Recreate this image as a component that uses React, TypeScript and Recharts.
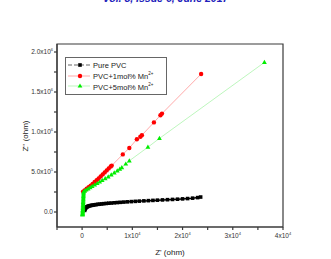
import React from "react";
import { ScatterChart, Scatter, XAxis, YAxis, Label, ReferenceArea } from "recharts";

const seriesNames = ["Pure PVC", "PVC+1mol% Mn", "PVC+5mol% Mn"];
const seriesColors = ["#000000", "#ff0000", "#00ee00"];
const lineColors = ["#000000", "#ff7070", "#90f090"];

const xDomain = [-5000, 40000];
const yDomain = [-187500, 2100000];
const xTicks = [-5000, 0, 5000, 10000, 15000, 20000, 25000, 30000, 35000, 40000];
const yTicks = [0, 250000, 500000, 750000, 1000000, 1250000, 1500000, 1750000, 2000000];

const pureX = [500, 550, 620, 700, 800, 900, 1000, 1150, 1300, 1500, 1700, 1950, 2200, 2500, 2800, 3150, 3500, 3900, 4300, 4800, 5300, 5800, 6400, 7000, 7600, 8300, 9000, 9800, 10600, 11400, 12300, 13200, 14100, 15000, 16000, 17000, 18000, 19000, 20000, 21000, 22000, 23000, 23600];
const pureY = [20000, 32000, 42000, 50000, 57000, 62000, 66000, 70000, 74000, 78000, 81000, 84000, 87000, 90000, 93000, 96000, 98000, 101000, 104000, 107000, 110000, 112000, 115000, 118000, 121000, 124000, 127000, 130000, 133000, 136000, 139000, 142000, 145000, 148000, 151000, 154000, 157000, 160000, 164000, 168000, 173000, 180000, 187000];

const mn1X = [200, 500, 900, 1300, 1700, 2100, 2500, 2900, 3300, 3700, 4100, 4500, 4900, 5300, 5700, 5900, 8100, 9400, 10900, 11600, 11900, 14300, 15600, 15900, 23700];
const mn1Y = [255000, 270000, 290000, 310000, 330000, 352000, 375000, 398000, 420000, 445000, 470000, 495000, 520000, 545000, 568000, 580000, 720000, 800000, 910000, 940000, 960000, 1120000, 1210000, 1230000, 1725000];

const mn5X = [80, 90, 100, 110, 120, 130, 140, 150, 160, 170, 180, 190, 200, 210, 220, 230, 240, 250, 260, 270, 280, 290, 300, 500, 800, 1200, 1600, 2000, 2500, 3000, 3500, 4000, 4600, 5200, 5800, 6400, 7000, 7500, 7900, 8700, 9400, 13100, 15400, 36300];
const mn5Y = [-37000, -30000, -20000, -10000, 0, 10000, 20000, 30000, 45000, 60000, 75000, 90000, 105000, 120000, 135000, 150000, 165000, 180000, 195000, 210000, 225000, 240000, 250000, 262000, 275000, 290000, 305000, 320000, 338000, 356000, 375000, 395000, 418000, 440000, 465000, 490000, 515000, 535000, 555000, 600000, 640000, 810000, 920000, 1870000];

const zip = (xs: number[], ys: number[]) => xs.map((x, i) => ({ x, y: ys[i] }));
const pureData = zip(pureX, pureY);
const mn1Data = zip(mn1X, mn1Y);
const mn5Data = zip(mn5X, mn5Y);

const FONT = "'Liberation Sans', Arial, sans-serif";
const AXIS = "#3a3a3a";

function Marker({ kind, cx, cy, color }: { kind: number; cx: number; cy: number; color: string }) {
    if (kind === 0) return <rect x={cx - 1.8} y={cy - 1.8} width={3.6} height={3.6} fill={color} />;
    if (kind === 1) return <circle cx={cx} cy={cy} r={2.2} fill={color} />;
    return <polygon points={`${cx},${cy - 2.6} ${cx - 2.4},${cy + 1.6} ${cx + 2.4},${cy + 1.6}`} fill={color} />;
}

function XTick({ x, y, payload }: any) {
    const v = payload.value;
    if (v < 0 || v % 10000 !== 0) return null;
    const k = v / 10000;
    return (
        <text x={x} y={y + 6} textAnchor="middle" fontSize={6.5} fill="#333" fontFamily={FONT}>
            {k === 0 ? "0" : <>{k}x10<tspan dy={-3} fontSize={4}>4</tspan></>}
        </text>
    );
}

function YTick({ x, y, payload }: any) {
    const v = payload.value;
    if (v % 500000 !== 0) return null;
    let body: React.ReactNode = "0.0";
    if (v > 0) {
        const exp = v >= 1000000 ? 6 : 5;
        const m = (v / Math.pow(10, exp)).toFixed(1);
        body = <>{m}x10<tspan dy={-3} fontSize={4}>{exp}</tspan></>;
    }
    return (
        <text x={x + 1} y={y + 2.3} textAnchor="end" fontSize={6.5} fill="#333" fontFamily={FONT}>
            {body}
        </text>
    );
}

function LegendBox() {
    return (
        <div style={{ position: "absolute", left: 65, top: 57, border: "1px solid #666", background: "#fff", width: 100, padding: "2px 0", fontFamily: FONT, fontSize: 7.5, color: "#222" }}>
            {seriesNames.map((name, i) => (
                <div key={name} style={{ display: "flex", alignItems: "center", height: 10.5 }}>
                    <svg width={27} height={10}>
                        <line x1={2} x2={24} y1={5} y2={5} stroke={lineColors[i]} strokeWidth={0.6} strokeDasharray={i === 0 ? "4 2" : undefined} />
                        <Marker kind={i} cx={14} cy={5} color={seriesColors[i]} />
                    </svg>
                    <span>
                        {name}
                        {i > 0 && <sup style={{ fontSize: 4.5 }}>2+</sup>}
                    </span>
                </div>
            ))}
        </div>
    );
}

export default function App() {
    const allData = [pureData, mn1Data, mn5Data];
    return (
        <div style={{ position: "absolute", left: 0, top: 0, width: 331, height: 259, background: "#fff", overflow: "hidden" }}>
            <div style={{ position: "absolute", left: 0, width: 331, top: -8, textAlign: "center", fontFamily: FONT, fontWeight: "bold", fontStyle: "italic", fontSize: 10.5, color: "#2222bb" }}>
                Vol. 8, Issue 6, June 2017
            </div>
            <ScatterChart width={331} height={259} margin={{ top: 44, right: 48, left: 0, bottom: 0 }}>
                <XAxis
                    type="number"
                    dataKey="x"
                    domain={xDomain}
                    ticks={xTicks}
                    interval={0}
                    allowDataOverflow
                    height={32}
                    stroke={AXIS}
                    strokeWidth={1.2}
                    tickSize={3}
                    tick={<XTick />}
                >
                    <Label value="Z' (ohm)" position="insideBottom" offset={4} fontSize={8} fill="#222" fontFamily={FONT} />
                </XAxis>
                <YAxis
                    type="number"
                    dataKey="y"
                    domain={yDomain}
                    ticks={yTicks}
                    interval={0}
                    allowDataOverflow
                    width={57}
                    stroke={AXIS}
                    strokeWidth={1.2}
                    tickSize={3}
                    tick={<YTick />}
                >
                    <Label
                        content={() => (
                            <text transform="translate(28,136) rotate(-90)" textAnchor="middle" fontSize={8} fill="#222" fontFamily={FONT}>
                                Z'' (ohm)
                            </text>
                        )}
                    />
                </YAxis>
                <ReferenceArea x1={xDomain[0]} x2={xDomain[1]} y1={yDomain[0]} y2={yDomain[1]} fill="none" stroke={AXIS} strokeWidth={1.2} />
                {allData.map((d, i) => (
                    <Scatter
                        key={seriesNames[i]}
                        name={seriesNames[i]}
                        data={d}
                        isAnimationActive={false}
                        line={{ stroke: lineColors[i], strokeWidth: i === 0 ? 1.5 : 0.6 }}
                        shape={(p: any) => <Marker kind={i} cx={p.cx} cy={p.cy} color={seriesColors[i]} />}
                    />
                ))}
            </ScatterChart>
            <LegendBox />
        </div>
    );
}
